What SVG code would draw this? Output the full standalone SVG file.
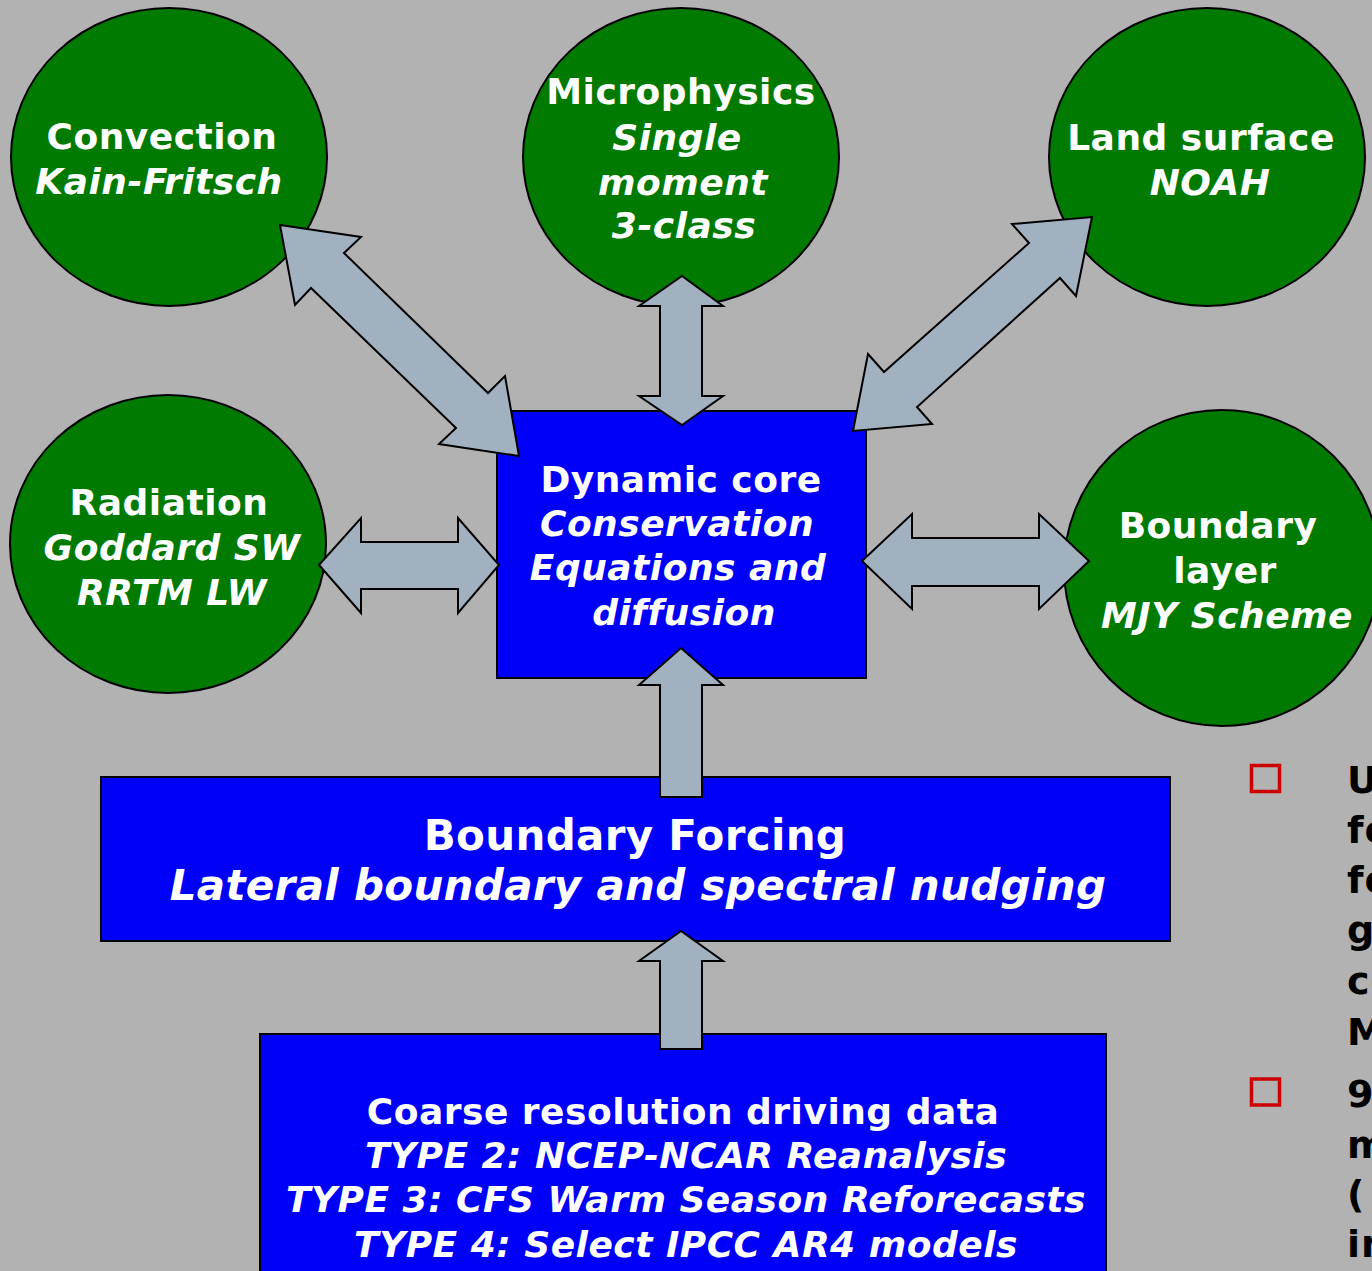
<svg xmlns="http://www.w3.org/2000/svg" width="1372" height="1271" viewBox="0 0 1372 1271">
<style>
.circ{fill:#007a00;stroke:#000;stroke-width:2}
.box{fill:#0000f8;stroke:#000;stroke-width:2}
.arr{fill:#a2b1c0;stroke:#000;stroke-width:2;stroke-linejoin:miter}
.t{font-family:"DejaVu Sans","Verdana",sans-serif;font-weight:bold;font-size:36px;fill:#fff;text-anchor:middle;letter-spacing:0.5px}
.i{font-style:italic}
.big{font-size:42px;letter-spacing:0.3px}
.side{font-family:"DejaVu Sans","Verdana",sans-serif;font-weight:bold;font-size:38px;fill:#000;letter-spacing:1px}
.bul{fill:none;stroke:#cc0000;stroke-width:3.5}
</style>
<rect x="0" y="0" width="1372" height="1271" fill="#b2b2b2"/>
<g id="convection">
<ellipse class="circ" cx="169" cy="157" rx="158" ry="149"/>
<text class="t" x="162" y="149">Convection</text>
<text class="t i" x="159" y="194">Kain-Fritsch</text>
</g>
<g id="microphysics">
<ellipse class="circ" cx="681" cy="157" rx="158" ry="149"/>
<text class="t" x="681" y="104">Microphysics</text>
<text class="t i" x="677" y="150">Single</text>
<text class="t i" x="683" y="195">moment</text>
<text class="t i" x="684" y="238">3-class</text>
</g>
<g id="landsurface">
<ellipse class="circ" cx="1207" cy="157" rx="158" ry="149"/>
<text class="t" x="1201" y="150">Land surface</text>
<text class="t i" x="1210" y="195">NOAH</text>
</g>
<g id="radiation">
<ellipse class="circ" cx="168" cy="544" rx="158" ry="149"/>
<text class="t" x="169" y="515">Radiation</text>
<text class="t i" x="172" y="560">Goddard SW</text>
<text class="t i" x="172" y="605">RRTM LW</text>
</g>
<g id="boundarylayer">
<ellipse class="circ" cx="1222" cy="568" rx="158" ry="158"/>
<text class="t" x="1218" y="538">Boundary</text>
<text class="t" x="1225" y="583">layer</text>
<text class="t i" x="1227" y="628">MJY Scheme</text>
</g>
<g id="dynamiccore">
<rect class="box" x="497" y="411" width="369" height="267"/>
<text class="t" x="681" y="492">Dynamic core</text>
<text class="t i" x="677" y="536">Conservation</text>
<text class="t i" x="678" y="580">Equations and</text>
<text class="t i" x="684" y="625">diffusion</text>
</g>
<g id="boundaryforcing">
<rect class="box" x="101" y="777" width="1069" height="164"/>
<text class="t big" x="635" y="850">Boundary Forcing</text>
<text class="t big i" x="638" y="900">Lateral boundary and spectral nudging</text>
</g>
<g id="coarsedata">
<rect class="box" x="260" y="1034" width="846" height="260"/>
<text class="t" x="683" y="1124">Coarse resolution driving data</text>
<text class="t i" x="686" y="1168">TYPE 2: NCEP-NCAR Reanalysis</text>
<text class="t i" x="686" y="1212">TYPE 3: CFS Warm Season Reforecasts</text>
<text class="t i" x="686" y="1257">TYPE 4: Select IPCC AR4 models</text>
</g>
<g id="connectors">
<polygon class="arr" points="280,225 361,237 344,253 488,393 505,376 519,456 439,444 456,428 311,288 295,305"/>
<polygon class="arr" points="1092,217 1076,296 1060,278 917,407 932,424 853,431 868,354 884,372 1029,243 1012,224"/>
<polygon class="arr" points="682,276 723,306 702,306 702,396 723,396 682,425 639,396 660,396 660,306 639,306"/>
<polygon class="arr" points="319,565 361,518 361,542 458,542 458,518 499,565 458,613 458,589 361,589 361,613"/>
<polygon class="arr" points="862,561 912,514 912,538 1039,538 1039,514 1089,561 1039,609 1039,586 912,586 912,609"/>
<polygon class="arr" points="681,648 723,685 702,685 702,797 660,797 660,685 639,685"/>
<polygon class="arr" points="681,931 723,961 702,961 702,1049 660,1049 660,961 639,961"/>
</g>
<g id="bullets">
<rect class="bul" x="1251.5" y="765.5" width="28" height="26"/>
<rect class="bul" x="1251.5" y="1079" width="28" height="26"/>
<text class="side" x="1347" y="793">U</text>
<text class="side" x="1347" y="843">fo</text>
<text class="side" x="1347" y="893">fo</text>
<text class="side" x="1347" y="943">g</text>
<text class="side" x="1347" y="994">co</text>
<text class="side" x="1347" y="1045">M</text>
<text class="side" x="1347" y="1107">9</text>
<text class="side" x="1347" y="1158">m</text>
<text class="side" x="1347" y="1207">(</text>
<text class="side" x="1347" y="1257">in</text>
</g>
</svg>
